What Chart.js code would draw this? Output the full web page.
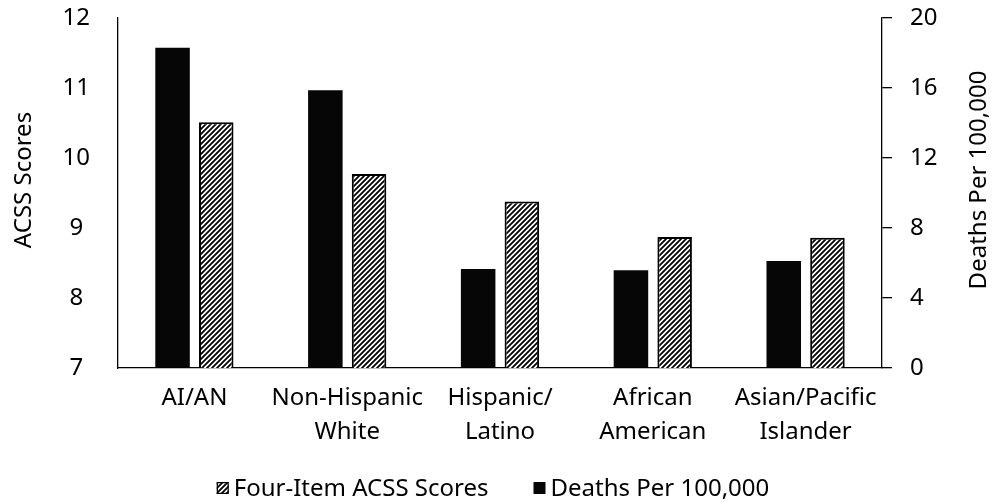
<!DOCTYPE html>
<html>
<head>
<meta charset="utf-8">
<script src="https://cdn.jsdelivr.net/npm/chart.js@4/dist/chart.umd.min.js"></script>
<style>
  html, body { margin: 0; padding: 0; background: #fff; }
  #wrap { width: 992px; height: 502px; }
</style>
</head>
<body>
<div id="wrap"><canvas id="c" width="992" height="502"></canvas></div>
<script>
// Groups along the x axis (multi-line labels)
const categories = [
  'AI/AN',
  ['Non-Hispanic', 'White'],
  ['Hispanic/', 'Latino'],
  ['African', 'American'],
  ['Asian/Pacific', 'Islander']
];

// Deaths per 100,000 (right axis)
const deathsPer100k = [18.3, 15.87, 5.66, 5.58, 6.11];

// Four-item ACSS scores (left axis)
const acssScores = [10.51, 9.77, 9.38, 8.87, 8.86];

// Axis ranges and tick spacing
const leftTicks = { min: 7, max: 12, step: 1 };
const rightTicks = { min: 0, max: 20, step: 4 };

const FONT = '"Noto Sans", "Open Sans", sans-serif';
const FS = 24;

// Diagonal hatch used for the ACSS bars
function makeHatch() {
  const s = 5;
  const t = document.createElement('canvas');
  t.width = s; t.height = s;
  const g = t.getContext('2d');
  g.fillStyle = '#fff';
  g.fillRect(0, 0, s, s);
  g.strokeStyle = '#000';
  g.lineWidth = 1.8;
  g.beginPath();
  g.moveTo(0, s); g.lineTo(s, 0);
  g.moveTo(-1, 1); g.lineTo(1, -1);
  g.moveTo(s - 1, s + 1); g.lineTo(s + 1, s - 1);
  g.stroke();
  return g.createPattern(t, 'repeat');
}

const hatch = makeHatch();

// Axis titles reading bottom-to-top on both sides
const axisTitles = {
  id: 'axisTitles',
  afterDraw(chart) {
    const { ctx, chartArea } = chart;
    const midY = (chartArea.top + chartArea.bottom) / 2 - 13;
    ctx.save();
    ctx.fillStyle = '#000';
    ctx.font = FS + 'px ' + FONT;
    ctx.textAlign = 'center';
    ctx.textBaseline = 'middle';
    [[24, 'ACSS Scores'], [chartArea.right + 97, 'Deaths Per 100,000']].forEach(([x, txt]) => {
      ctx.save();
      ctx.translate(x, midY);
      ctx.rotate(-Math.PI / 2);
      ctx.fillText(txt, 0, 0);
      ctx.restore();
    });
    ctx.restore();
  }
};

// Legend row under the chart: ACSS entry first, then deaths
const legendRow = {
  id: 'legendRow',
  afterDraw(chart) {
    const { ctx } = chart;
    const ds = chart.data.datasets;
    const items = [ds[1], ds[0]];
    const box = 12, boxGap = 5, itemGap = 45;
    ctx.save();
    ctx.font = FS + 'px ' + FONT;
    ctx.textBaseline = 'middle';
    ctx.textAlign = 'left';
    const widths = items.map(d => ctx.measureText(d.label).width);
    const total = widths.reduce((a, w) => a + box + boxGap + w, 0) + itemGap * (items.length - 1);
    let x = chart.width / 2 - 3 - total / 2;
    const y = chart.height - 14;
    items.forEach((d, i) => {
      ctx.fillStyle = d.backgroundColor;
      ctx.fillRect(x, y - box / 2, box, box);
      if (d.borderWidth) {
        ctx.strokeStyle = d.borderColor;
        ctx.lineWidth = 1.2;
        ctx.strokeRect(x + 0.6, y - box / 2 + 0.6, box - 1.2, box - 1.2);
      }
      ctx.fillStyle = '#000';
      ctx.fillText(d.label, x + box + boxGap, y + 1);
      x += box + boxGap + widths[i] + itemGap;
    });
    ctx.restore();
  }
};

// Keep the plot area flush with the layout padding
function fixWidth(w) {
  return function (s) {
    s.width = w;
    s.paddingTop = 0;
    s.paddingBottom = 0;
  };
}

new Chart(document.getElementById('c'), {
  type: 'bar',
  data: {
    labels: categories,
    datasets: [
      {
        label: 'Deaths Per 100,000',
        data: deathsPer100k,
        yAxisID: 'yRight',
        backgroundColor: '#060606',
        borderWidth: 0
      },
      {
        label: 'Four-Item ACSS Scores',
        data: acssScores,
        yAxisID: 'yLeft',
        backgroundColor: hatch,
        borderColor: '#000',
        borderWidth: 2
      }
    ]
  },
  options: {
    responsive: false,
    animation: false,
    devicePixelRatio: 1,
    categoryPercentage: 0.572,
    barPercentage: 0.79,
    layout: { padding: { top: 18, left: 0, right: 0, bottom: 53 } },
    plugins: {
      legend: { display: false },
      tooltip: { enabled: false }
    },
    scales: {
      x: {
        grid: { display: false },
        border: { display: true, color: '#000', width: 1.3 },
        ticks: {
          color: '#000',
          padding: 5,
          maxRotation: 0,
          autoSkip: false,
          font: { family: FONT, size: FS, lineHeight: 1.42 }
        },
        afterFit(s) { s.height = 81; s.paddingLeft = 0; s.paddingRight = 0; }
      },
      yLeft: {
        position: 'left',
        min: leftTicks.min,
        max: leftTicks.max,
        grid: { display: false },
        border: { display: true, color: '#000', width: 1.3 },
        ticks: {
          stepSize: leftTicks.step,
          color: '#000',
          crossAlign: 'center',
          padding: 20,
          font: { family: FONT, size: FS }
        },
        afterFit: fixWidth(118)
      },
      yRight: {
        position: 'right',
        min: rightTicks.min,
        max: rightTicks.max,
        grid: { display: true, drawOnChartArea: false, drawTicks: true, tickLength: 10, color: '#000', lineWidth: 1.3 },
        border: { display: true, color: '#000', width: 1.3 },
        ticks: {
          stepSize: rightTicks.step,
          color: '#000',
          padding: 18,
          font: { family: FONT, size: FS }
        },
        afterFit: fixWidth(110)
      }
    }
  },
  plugins: [axisTitles, legendRow]
});
</script>
</body>
</html>
